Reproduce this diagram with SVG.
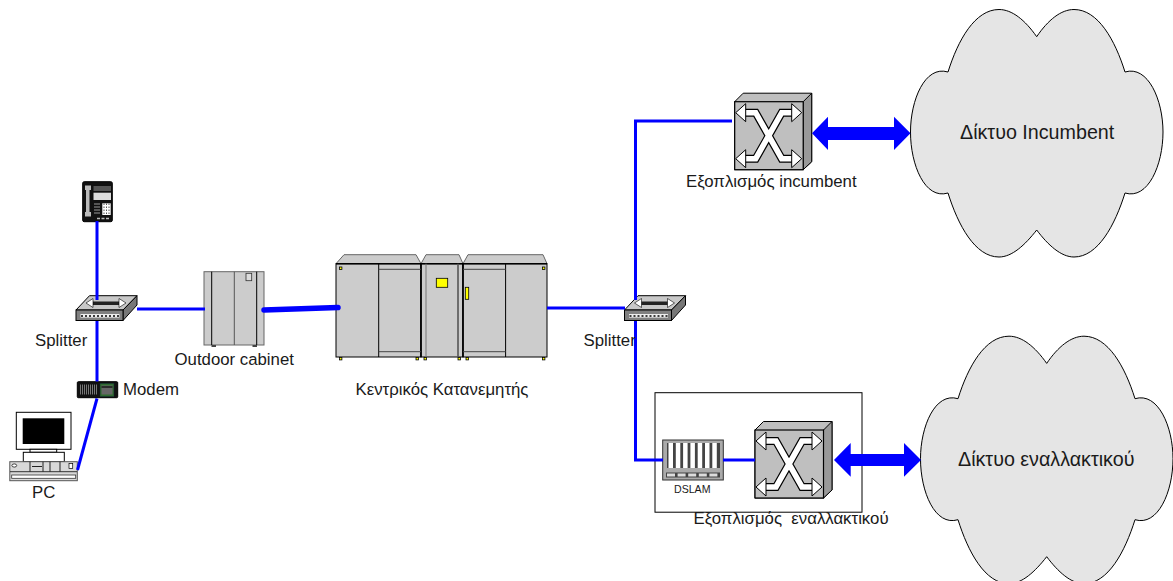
<svg xmlns="http://www.w3.org/2000/svg" width="1173" height="581" viewBox="0 0 1173 581">
<style>
text{font-family:"Liberation Sans",Arial,sans-serif;font-size:16.8px;fill:#1a1a1a;white-space:pre}
.big{font-size:19.7px}
.wire{fill:none;stroke:#0000ff;stroke-width:3}
.k{stroke:#000;stroke-width:1}
.g{fill:#cccccc;stroke:#000;stroke-width:1}
.y{fill:#ffff00;stroke:#000;stroke-width:.8}
</style>
<defs>
<path id="cloud" d="M1036.7,36.7C1025,20 1012,9.5 999,9.5C975,9.5 958,40 948,72C925,65 910.5,100 910.5,132C910.5,165 925,200 948,193C958,225 975,257 999,257C1012,257 1025,245 1036.7,230C1048,245 1061,257 1074,257C1098,257 1115,225 1125,193C1148,200 1163,165 1163,132C1163,100 1148,65 1125,72C1115,40 1098,9.5 1074,9.5C1061,9.5 1048,20 1036.7,36.7Z" fill="#e5e5e5" stroke="#000" stroke-width="1"/>
<g id="sw">
<path d="M0,0L8.5,-8.5H77V60L68.5,68H0Z" fill="#bfbfbf" stroke="#000" stroke-width="1"/>
<path d="M68.5,0L77,-8.5V60L68.5,68Z" fill="#999" stroke="#000" stroke-width="1"/>
<rect x="0" y="0" width="68.5" height="68" fill="#bfbfbf" stroke="#000" stroke-width="1.2"/>
<path d="M10,11H21L47,57H58M58,11H47L21,57H10" fill="none" stroke="#000" stroke-width="8"/>
<path d="M10,11H21L47,57H58M58,11H47L21,57H10" fill="none" stroke="#fff" stroke-width="5.6"/>
<path d="M1,11L11,2V20ZM67,11L57,2V20ZM1,57L11,48V66ZM67,57L57,48V66Z" fill="#fff" stroke="#000" stroke-width="1"/>
</g>
<g id="spl">
<path d="M0,15L13.5,.7H61L47,15Z" fill="#c8c8c8" stroke="#000" stroke-width="1"/>
<path d="M47,15L61,.7V10L47,25.5Z" fill="#777" stroke="#000" stroke-width="1"/>
<rect x="0" y="15" width="47" height="10.5" fill="#808080" stroke="#000" stroke-width="1"/>
<path d="M14,6.5H46L44,10H14Z" fill="#222"/>
<path d="M10,8L17,3.5V12.5ZM50,8L43,3.5V12.5Z" fill="#fff" stroke="#000" stroke-width=".6"/>
<rect x="4.5" y="19" width="39" height="3.6" fill="#eee"/>
<path d="M5,21H43" stroke="#000" stroke-width="1.6" stroke-dasharray="2 2" fill="none"/>
</g>
</defs>

<g id="cloud-incumbent"><use href="#cloud"/><text class="big" x="960" y="139">Δίκτυο Incumbent</text></g>
<g id="cloud-alt"><use href="#cloud" transform="translate(10,326.7)"/><text class="big" x="958" y="466">Δίκτυο εναλλακτικού</text></g>

<g id="alt-box"><rect x="655" y="392.7" width="207" height="119.5" fill="#fff" stroke="#000" stroke-width="1"/></g>

<g id="phone">
<rect x="82.7" y="181.7" width="29.6" height="40" rx="1.5" fill="#111" stroke="#000"/>
<path d="M85,185.5H91V190H89.5V212H91V216.5H85V212H86V190H85Z" fill="#bbb"/>
<rect x="93.5" y="186" width="17.5" height="5" fill="#555"/>
<rect x="93.5" y="192.7" width="17.5" height="7.3" fill="#ddd"/>
<rect x="102.3" y="203.3" width="8.4" height="11.7" fill="#fff"/>
<path d="M104,203.5V215M106.5,203.5V215M109,203.5V215" stroke="#555" stroke-width="1" stroke-dasharray="1.5 1.5"/>
<path d="M94,204H100M94,207H100M94,210H100M94,213H100" stroke="#999" stroke-width="1.2"/>
<path d="M97,218.5H110" stroke="#bbb" stroke-width="1.6" stroke-dasharray="3 1.5"/>
</g>

<g id="splitter-left"><use href="#spl" transform="translate(76,295)"/><text x="35" y="345.7">Splitter</text></g>

<g id="modem">
<rect x="77.3" y="381.7" width="40.4" height="16" rx="1" fill="#111" stroke="#000"/>
<path d="M80,389.5H98" stroke="#777" stroke-width="10" stroke-dasharray="1 1" fill="none"/>
<rect x="100" y="383.3" width="14" height="13.4" fill="#2f6b2f" stroke="#123" stroke-width=".5"/>
<rect x="101.5" y="385.5" width="11" height="9" fill="#666"/>
<path d="M101.5,387H112.5" stroke="#111" stroke-width="1.4"/>
</g>

<g id="pc">
<rect x="16.3" y="412.3" width="54.7" height="37" fill="#fff" class="k"/>
<rect x="22.7" y="418.3" width="41.6" height="25.7" fill="#000"/>
<rect x="30" y="449.3" width="26.7" height="3" fill="#fff" class="k"/>
<rect x="23.3" y="452.3" width="41" height="9.4" fill="#fff" class="k"/>
<rect x="9.8" y="461.7" width="67.5" height="19" fill="#d8d8d8" stroke="#555" stroke-width="1"/>
<path d="M10,471.7H77" stroke="#333" stroke-width="1"/>
<rect x="11.7" y="475" width="64" height="3.3" fill="#fff" stroke="#333" stroke-width=".8"/>
<ellipse cx="14.3" cy="465.5" rx="2.4" ry="1.6" fill="#fff" stroke="#000" stroke-width=".7"/>
<path d="M30,461.7V471.7M43,461.7V471.7M50,461.7V471.7M60,461.7V471.7" stroke="#222" stroke-width="1"/>
<path d="M32,466.5H42" stroke="#222" stroke-width="1"/>
<rect x="69" y="463.5" width="3.7" height="5" fill="#fff" stroke="#000" stroke-width=".7"/>
<text x="32" y="497.7">PC</text>
</g>

<g id="outdoor-cabinet">
<rect x="204" y="271.7" width="60" height="73.3" fill="#cccccc" stroke="#666" stroke-width="1"/>
<path d="M211.7,271.7V345M256.7,271.7V345" stroke="#000" stroke-width="1"/>
<path d="M234.3,271.7V345" stroke="#555" stroke-width="1"/>
<rect x="246" y="273.3" width="5.7" height="7.4" fill="#ddd" stroke="#333" stroke-width=".8"/>
<path d="M211.5,345H216V347H211.5ZM252.5,345H257V347H252.5Z" fill="#444"/>
<text x="174.5" y="365">Outdoor cabinet</text>
</g>

<g id="central-distributor">
<path d="M336,263.7L344,254.7H416L421,263.7ZM421,263.7L426,254.7H459L463,263.7ZM463,263.7L468,254.7H543L547,263.7Z" fill="#cccccc" stroke="#666" stroke-width="1"/>
<rect x="336" y="263.7" width="85" height="93.3" class="g"/>
<rect x="421" y="263.7" width="42" height="93.3" class="g"/>
<rect x="463" y="263.7" width="84" height="93.3" class="g"/>
<path d="M336,263.7H547" stroke="#000" stroke-width="1.5"/>
<path d="M421,263.7V357M463,263.7V357" stroke="#000" stroke-width="1.6"/>
<path d="M378.7,263.7V357M505.6,263.7V357" stroke="#000" stroke-width="1"/>
<path d="M378.7,269.3H421M378.7,351.7H421M463,269.3H505.6M463,351.7H505.6" stroke="#444" stroke-width="1"/>
<path d="M426,263.7V357" stroke="#777" stroke-width="1"/>
<path d="M458,263.7V357" stroke="#555" stroke-width="1.6"/>
<rect x="436.3" y="278.3" width="11.4" height="9" class="y"/>
<rect x="465.3" y="287.3" width="3.4" height="12" class="y"/>
<rect x="339.5" y="267" width="2.4" height="2.4" class="y"/>
<rect x="542.5" y="267" width="2.4" height="2.4" class="y"/>
<rect x="339.5" y="357.5" width="2.4" height="2.4" class="y"/>
<rect x="416" y="357.5" width="2.4" height="2.4" class="y"/>
<rect x="424" y="357.5" width="2.4" height="2.4" class="y"/>
<rect x="458" y="357.5" width="2.4" height="2.4" class="y"/>
<rect x="466" y="357.5" width="2.4" height="2.4" class="y"/>
<rect x="542.5" y="357.5" width="2.4" height="2.4" class="y"/>
<text x="355.5" y="395">Κεντρικός Κατανεμητής</text>
</g>

<g id="splitter-right"><use href="#spl" transform="translate(624.5,295)"/></g>

<g id="switch-incumbent"><use href="#sw" transform="translate(734.7,101.7)"/><text x="686" y="187">Εξοπλισμός incumbent</text></g>
<g id="switch-alt"><use href="#sw" transform="translate(755,430)"/></g>

<g id="dslam">
<rect x="662.7" y="440" width="60.6" height="40" fill="#aaa" stroke="#333" stroke-width="1"/>
<path d="M667,443H720V468H667Z" fill="#444"/>
<path d="M668.5,455.5H719" stroke="#fff" stroke-width="25" stroke-dasharray="4.5 2.8" fill="none"/>
<rect x="666" y="472.5" width="54" height="5" fill="#444"/>
<path d="M667,475H719" stroke="#ddd" stroke-width="3" stroke-dasharray="8 2.6" fill="none"/>
<text x="674" y="492.7" style="font-size:10.6px">DSLAM</text>
</g>

<g id="connectors">
<path class="wire" d="M97,221V300M97,321V381.5"/>
<path class="wire" d="M97,398.5L77.5,470"/>
<path class="wire" d="M137,309H205"/>
<path class="wire" d="M264,310L338,307.5" stroke-linecap="round" style="stroke-width:5.5"/>
<path class="wire" d="M547,308H625"/>
<path class="wire" d="M732,121H635.5V300"/>
<path class="wire" d="M635.5,321V460H663"/>
<path class="wire" d="M723,460H755"/>
<path d="M812,133.3L828,116.7V127H894V116.7L910.5,133.3L894,150V140H828V150Z" fill="#0000ff"/>
<path d="M834,460L850.7,443V454H904V443L921,460L904,476.7V466H850.7V476.7Z" fill="#0000ff"/>
</g>

<g id="labels">
<text x="123" y="395">Modem</text>
<text x="583.5" y="346">Splitter</text>
<text x="693.5" y="524.3">Εξοπλισμός  εναλλακτικού</text>
</g>
</svg>
